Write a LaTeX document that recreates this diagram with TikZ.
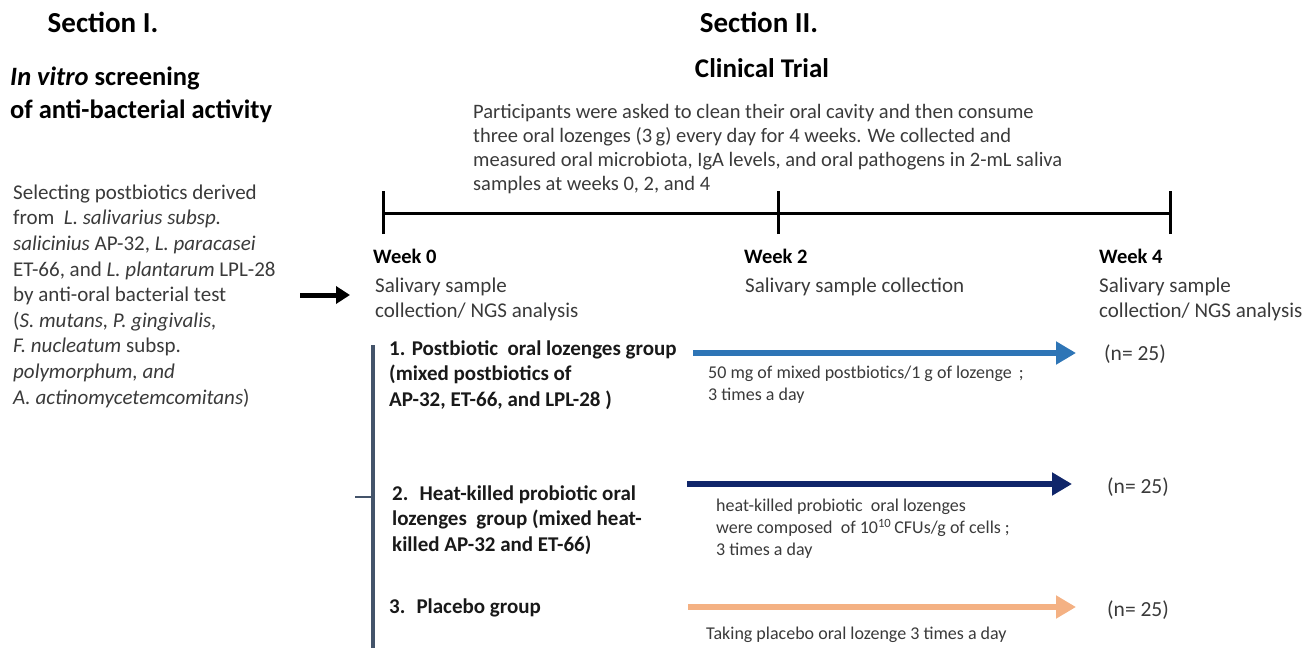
\documentclass[tikz,border=0pt]{standalone}
\usepackage{fontspec}
\setmainfont{Carlito}
\usetikzlibrary{arrows.meta}
\definecolor{blueA}{HTML}{2E75B6}
\definecolor{navyA}{HTML}{10266A}
\definecolor{orangeA}{HTML}{F4B183}
\definecolor{barC}{HTML}{44546A}
\definecolor{txtgray}{HTML}{3A3A3A}
\begin{document}
\begin{tikzpicture}[x=1pt,y=-1pt,
  head/.style={font=\fontsize{29}{33}\selectfont\bfseries, anchor=base, inner sep=0},
  subhead/.style={font=\fontsize{26.5}{33}\selectfont\bfseries, align=left, anchor=base west, inner sep=0},
  body/.style={font=\fontsize{21}{25.6}\selectfont, align=left, anchor=base west, inner sep=0, text=txtgray},
  top/.style={font=\fontsize{20.5}{24}\selectfont, align=left, anchor=base west, inner sep=0, text=txtgray},
  wtxt/.style={font=\fontsize{21}{25}\selectfont, align=left, anchor=base west, inner sep=0, text=txtgray},
  week/.style={font=\fontsize{20.5}{24}\selectfont\bfseries, anchor=base west, inner sep=0},
  group/.style={font=\fontsize{21}{25.3}\selectfont\bfseries, align=left, anchor=base west, inner sep=0, text=black!90},
  small/.style={font=\fontsize{18}{21.7}\selectfont, align=left, anchor=base west, inner sep=0, text=txtgray},
  count/.style={font=\fontsize{21.5}{24}\selectfont, anchor=base west, inner sep=0, text=txtgray},
  tl/.style={line width=3pt, black},
  grouparrow/.style={line width=6pt, -{Triangle[length=20pt,width=22pt]}}
]
\useasboundingbox (0,0) rectangle (1309,648);

% headings
\node[head] (s1) at (103,32) {Section I.};
\node[head] (s2) at (759,32) {Section II.};
\node[head, font=\fontsize{27}{31}\selectfont\bfseries] (ct) at (762,77) {Clinical Trial};
\node[subhead] (iv) at (10,118) {\textit{In vitro} screening\\of anti-bacterial activity};

% left paragraph
\node[body] (lp) at (13,404) {Selecting postbiotics derived\\
from \ \textit{L. salivarius subsp.}\\
\textit{salicinius} AP-32, \textit{L. paracasei}\\
ET-66, and \textit{L. plantarum} LPL-28\\
by anti-oral bacterial test\\
(\textit{S. mutans, P. gingivalis,}\\
\textit{F. nucleatum} subsp.\\
\textit{polymorphum, and}\\
\textit{A. actinomycetemcomitans})};

% top paragraph
\node[top] (tp) at (473,190) {Participants were asked to clean their oral cavity and then consume\\
three oral lozenges (3\,g) every day for 4 weeks. We collected and\\
measured oral microbiota, IgA levels, and oral pathogens in 2-mL saliva\\
samples at weeks 0, 2, and 4};

% timeline
\coordinate (t0) at (383,213);
\coordinate (t2) at (778,213);
\coordinate (t4) at (1170,213);
\draw[tl] (t0) -- (t4);
\draw[tl] ([yshift=-21pt]t0) -- ([yshift=22pt]t0);
\draw[tl] ([yshift=-21pt]t2) -- ([yshift=22pt]t2);
\draw[tl] ([yshift=-21pt]t4) -- ([yshift=22pt]t4);

% week labels
\node[week] (w0) at (373,263) {Week 0};
\node[wtxt] (w0t) at (375,317) {Salivary sample\\collection/ NGS analysis};
\node[week] (w2) at (744,263) {Week 2};
\node[wtxt] (w2t) at (745,292) {Salivary sample collection};
\node[week] (w4) at (1099,263) {Week 4};
\node[wtxt] (w4t) at (1099,317) {Salivary sample\\collection/ NGS analysis};

% section I -> II arrow
\coordinate (la) at (300,295);
\coordinate (lb) at (350,295);
\draw[line width=5pt, -{Triangle[length=14pt,width=17pt]}] (la) -- (lb);

% vertical group bar
\coordinate (vb0) at (373,345);
\coordinate (vb1) at (373,648);
\coordinate (vt) at (355,497);
\draw[barC, line width=4pt] (vb0) -- (vb1);
\draw[barC, line width=1.5pt] (vt) -- (vb0 |- vt);

% groups
\node[group] (g1) at (389,406) {1. Postbiotic \ oral lozenges group\\(mixed postbiotics of\\AP-32, ET-66, and LPL-28 )};
\node[group] (g2) at (392,551) {2. \ Heat-killed probiotic oral\\lozenges \ group (mixed heat-\\killed AP-32 and ET-66)};
\node[group] (g3) at (389,613) {3. \ Placebo group};

% arrows
\coordinate (a1s) at (693,353);
\coordinate (a1e) at (1076,353);
\coordinate (a2s) at (687,484);
\coordinate (a2e) at (1072,484);
\coordinate (a3s) at (688,607);
\coordinate (a3e) at (1076,607);
\draw[grouparrow, blueA] (a1s) -- (a1e);
\draw[grouparrow, navyA] (a2s) -- (a2e);
\draw[grouparrow, orangeA] (a3s) -- (a3e);

\node[small] (d1) at (708,400) {50 mg of mixed postbiotics/1 g of lozenge \,;\\3 times a day};
\node[small] (d2) at (716,555) {heat-killed probiotic \ oral lozenges\\were composed \ of 10\textsuperscript{10}\,CFUs/g of cells ;\\3 times a day};
\node[small] (d3) at (706,639) {Taking placebo oral lozenge 3 times a day};

\node[count] (n1) at (1104,360) {(n= 25)};
\node[count] (n2) at (1107,493) {(n= 25)};
\node[count] (n3) at (1107,616) {(n= 25)};
\end{tikzpicture}
\end{document}
